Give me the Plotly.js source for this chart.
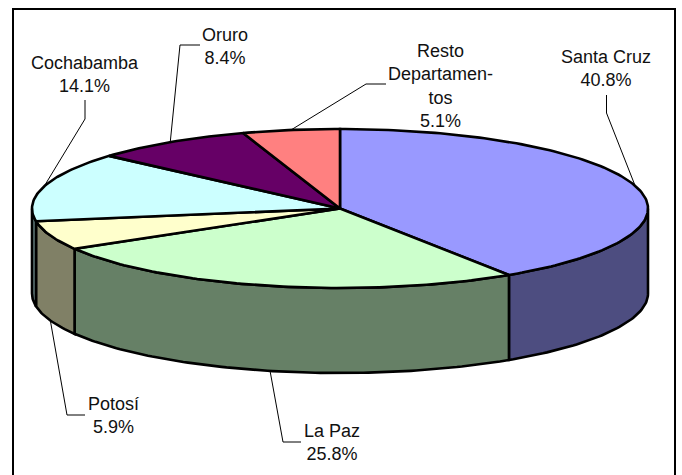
<!DOCTYPE html>
<html>
<head>
<meta charset="utf-8">
<script src="https://cdn.plot.ly/plotly-3.0.1.min.js"></script>
<style>html,body{margin:0;padding:0;background:#fff;overflow:hidden}#chart{width:682px;height:475px}</style>
</head>
<body>
<div id="chart"></div>
<script>
// Data
const departments = ["Santa Cruz", "La Paz", "Potosí", "Cochabamba", "Oruro", "Resto Departamentos"];
const shares = [40.8, 25.8, 5.9, 14.1, 8.4, 5.1];
const labelTexts = ["Santa Cruz<br>40.8%", "La Paz<br>25.8%", "Potosí<br>5.9%", "Cochabamba<br>14.1%", "Oruro<br>8.4%", "Resto<br>Departamen-<br>tos<br>5.1%"];
const topColors = ["#9999FF", "#CCFFCC", "#FFFFCC", "#CCFFFF", "#660066", "#FF8080"];
const sideColors = ["#4D4D80", "#668066", "#808066", "#668080", "#330033", "#804040"];

// Layout of the pie in the plot's pixel-like axis units
const cx = 340, cy = 208.5, rx = 308, ry = 79.5, depth = 85;
const labelX = [606, 332, 113, 85, 225, 440];
const labelY = [68, 442, 415, 74, 46, 86];
const elbows = [
  [[606.5, 95], [606.5, 113]],
  [[301, 442], [283, 442]],
  [[85, 415], [67, 415]],
  [[85, 100], [85, 119]],
  [[200, 45], [180, 45]],
  [[386, 84], [366, 84]]
];

const total = shares.reduce((a, b) => a + b, 0);
const px = t => cx + rx * Math.sin(t);
const py = (t, d) => cy - ry * Math.cos(t) + d;
const RAD = Math.PI / 180;

function arc(a0, a1, d) {
  const n = Math.max(2, Math.ceil(Math.abs(a1 - a0) / RAD));
  const xs = [], ys = [];
  for (let i = 0; i <= n; i++) {
    const t = a0 + (a1 - a0) * i / n;
    xs.push(px(t)); ys.push(py(t, d));
  }
  return [xs, ys];
}

const starts = [], ends = [];
let acc = 0;
shares.forEach(s => {
  starts.push(acc / total * 2 * Math.PI);
  acc += s;
  ends.push(acc / total * 2 * Math.PI);
});

const traces = [];
const outline = {color: "#000", width: 2.6};

// Visible outer wall of each slice
shares.forEach((s, i) => {
  const a0 = Math.max(starts[i], Math.PI / 2), a1 = Math.min(ends[i], 3 * Math.PI / 2);
  if (a1 <= a0) return;
  const [tx, ty] = arc(a0, a1, 0);
  const [bx, by] = arc(a1, a0, depth);
  traces.push({
    x: tx.concat(bx, [tx[0]]), y: ty.concat(by, [ty[0]]),
    mode: "lines", fill: "toself", fillcolor: sideColors[i], line: outline,
    hoverinfo: "skip", showlegend: false, name: departments[i]
  });
});

// Top face of each slice
shares.forEach((s, i) => {
  const [ax, ay] = arc(starts[i], ends[i], 0);
  traces.push({
    x: [cx].concat(ax, [cx]), y: [cy].concat(ay, [cy]),
    mode: "lines", fill: "toself", fillcolor: topColors[i], line: outline,
    hoverinfo: "skip", showlegend: false, name: departments[i]
  });
});

// Leader lines: from the label elbow to the slice's mid-angle on the rim
shares.forEach((s, i) => {
  const mid = (starts[i] + ends[i]) / 2;
  const front = Math.cos(mid) < 0;
  const end = [px(mid), py(mid, front ? depth : 0)];
  traces.push({
    x: [elbows[i][0][0], elbows[i][1][0], end[0]],
    y: [elbows[i][0][1], elbows[i][1][1], end[1]],
    mode: "lines", line: {color: "#000", width: 1},
    hoverinfo: "skip", showlegend: false, name: departments[i]
  });
});

const annotations = labelTexts.map((t, i) => ({
  x: labelX[i], y: labelY[i], xref: "x", yref: "y", text: t,
  showarrow: false, xanchor: "center", yanchor: "middle", align: "center",
  font: {family: "Liberation Sans, Arial, sans-serif", size: 18, color: "#111"}
}));

const layout = {
  width: 682, height: 475,
  margin: {l: 0, r: 0, t: 0, b: 0},
  paper_bgcolor: "#fff", plot_bgcolor: "#fff",
  showlegend: false,
  xaxis: {range: [0, 682], visible: false, fixedrange: true},
  yaxis: {range: [475, 0], visible: false, fixedrange: true},
  annotations: annotations,
  shapes: [{
    type: "path", path: "M13,476 L13,9 L675,9 L675,476",
    xref: "x", yref: "y", line: {color: "#000", width: 2}
  }]
};

Plotly.newPlot("chart", traces, layout, {displayModeBar: false, staticPlot: true});
</script>
</body>
</html>
